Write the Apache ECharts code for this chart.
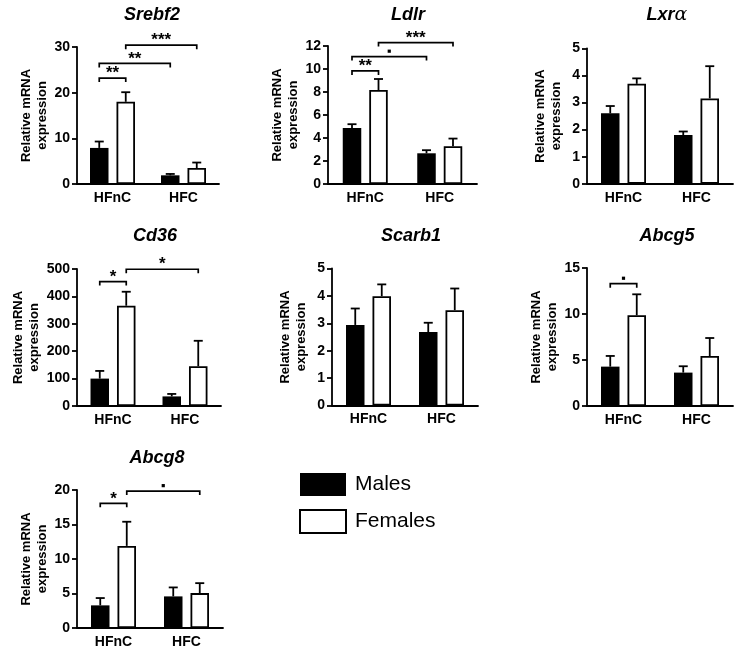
<!DOCTYPE html>
<html>
<head>
<meta charset="utf-8">
<script src="https://cdn.jsdelivr.net/npm/echarts@6/dist/echarts.min.js"></script>
<style>html,body{margin:0;padding:0;background:#fff;}#c{width:739px;height:652px;}</style>
</head>
<body>
<div id="c"></div>
<script>
// ---------- DATA ----------
const categories = ['HFnC', 'HFC'];
const seriesNames = ['Males', 'Females'];
const yAxisName = 'Relative mRNA\nexpression';

// means and SEM (upper error) per gene: [HFnC, HFC]
const srebf2Males = [7.9, 1.9],   srebf2MalesSem = [1.4, 0.3];
const srebf2Females = [18.0, 3.5], srebf2FemalesSem = [2.1, 1.2];
const ldlrMales = [4.88, 2.67],   ldlrMalesSem = [0.32, 0.27];
const ldlrFemales = [8.17, 3.28], ldlrFemalesSem = [0.96, 0.67];
const lxraMales = [2.6, 1.8],     lxraMalesSem = [0.27, 0.13];
const lxraFemales = [3.69, 3.15], lxraFemalesSem = [0.2, 1.19];
const cd36Males = [100, 35],      cd36MalesSem = [28, 9];
const cd36Females = [366, 145],   cd36FemalesSem = [51, 93];
const scarb1Males = [2.94, 2.68], scarb1MalesSem = [0.6, 0.34];
const scarb1Females = [3.99, 3.48], scarb1FemalesSem = [0.43, 0.79];
const abcg5Males = [4.28, 3.63],  abcg5MalesSem = [1.16, 0.69];
const abcg5Females = [9.86, 5.43], abcg5FemalesSem = [2.28, 1.96];
const abcg8Males = [3.28, 4.58],  abcg8MalesSem = [1.06, 1.3];
const abcg8Females = [11.9, 5.06], abcg8FemalesSem = [3.5, 1.44];

// significance brackets: [fromBar, toBar, level, label]; bar 0=HFnC M,1=HFnC F,2=HFC M,3=HFC F
const srebf2Sig = [[0, 1, 23.2, '**'], [0, 2, 26.4, '**'], [1, 3, 30.4, '***']];
const ldlrSig = [[0, 1, 9.83, '**'], [0, 2, 11.08, '.'], [1, 3, 12.3, '***']];
const lxraSig = [];
const cd36Sig = [[0, 1, 454, '*'], [1, 3, 499, '*']];
const scarb1Sig = [];
const abcg5Sig = [[0, 1, 13.3, '.']];
const abcg8Sig = [[0, 1, 18.07, '*'], [1, 3, 19.85, '.']];

// axis ranges
const yMax = [30, 12, 5, 500, 5, 15, 20];
const yInterval = [10, 2, 1, 100, 1, 5, 5];

// ---------- LAYOUT ----------
const FONT = 'Arial, "Liberation Sans", Helvetica, sans-serif';
const BAR_W = 18.5, BAR_GAP = 8, OFF = (BAR_W + BAR_GAP) / 2, CAP = 9, DROP = 4;

const genes = [
  {title: 'Srebf2', m: srebf2Males, ms: srebf2MalesSem, f: srebf2Females, fs: srebf2FemalesSem, sig: srebf2Sig},
  {title: 'Ldlr', m: ldlrMales, ms: ldlrMalesSem, f: ldlrFemales, fs: ldlrFemalesSem, sig: ldlrSig},
  {title: 'Lxrα', m: lxraMales, ms: lxraMalesSem, f: lxraFemales, fs: lxraFemalesSem, sig: lxraSig},
  {title: 'Cd36', m: cd36Males, ms: cd36MalesSem, f: cd36Females, fs: cd36FemalesSem, sig: cd36Sig},
  {title: 'Scarb1', m: scarb1Males, ms: scarb1MalesSem, f: scarb1Females, fs: scarb1FemalesSem, sig: scarb1Sig},
  {title: 'Abcg5', m: abcg5Males, ms: abcg5MalesSem, f: abcg5Females, fs: abcg5FemalesSem, sig: abcg5Sig},
  {title: 'Abcg8', m: abcg8Males, ms: abcg8MalesSem, f: abcg8Females, fs: abcg8FemalesSem, sig: abcg8Sig}
];

const layout = [
  {left: 77, top: 47, width: 142, height: 137, nameGap: 26, tx: 147, ty: 1},
  {left: 328, top: 46, width: 149, height: 138, nameGap: 19, tx: 403, ty: 1},
  {left: 587, top: 48.3, width: 146, height: 135.5, nameGap: 23, tx: 662, ty: 1},
  {left: 77, top: 269, width: 144, height: 137, nameGap: 35, tx: 150, ty: 222},
  {left: 332, top: 268.5, width: 146, height: 137, nameGap: 23, tx: 406, ty: 222},
  {left: 587, top: 268, width: 146, height: 138, nameGap: 23, tx: 662, ty: 222},
  {left: 77, top: 490, width: 146, height: 138, nameGap: 25, tx: 152, ty: 444}
];

const grid = [], xAxis = [], yAxis = [], series = [], title = [];

genes.forEach((g, i) => {
  const L = layout[i];
  grid.push({left: L.left, top: L.top, width: L.width, height: L.height, containLabel: false});
  xAxis.push({
    type: 'category', gridIndex: i, data: categories,
    axisLine: {lineStyle: {color: '#000', width: 1.8}},
    axisTick: {alignWithLabel: true, length: 5, lineStyle: {color: '#000', width: 1.8}},
    axisLabel: {color: '#000', fontFamily: FONT, fontWeight: 'bold', fontSize: 14, margin: 7},
    splitLine: {show: false}
  });
  yAxis.push({
    type: 'value', gridIndex: i, min: 0, max: yMax[i], interval: yInterval[i],
    name: yAxisName, nameLocation: 'middle', nameGap: L.nameGap,
    nameTextStyle: {color: '#000', fontFamily: FONT, fontWeight: 'bold', fontSize: 13, lineHeight: 16},
    axisLine: {show: true, lineStyle: {color: '#000', width: 1.8}},
    axisTick: {show: true, length: 5, lineStyle: {color: '#000', width: 1.8}},
    axisLabel: {color: '#000', fontFamily: FONT, fontWeight: 'bold', fontSize: 14, margin: 7},
    splitLine: {show: false}
  });
  const isLxr = g.title === 'Lxrα';
  title.push({
    text: isLxr ? '{a|Lxr}{b|α}' : g.title,
    left: L.tx, top: L.ty, textAlign: 'center',
    textStyle: {
      color: '#000', fontFamily: FONT, fontWeight: 'bold', fontStyle: 'italic', fontSize: 18,
      rich: {
        a: {color: '#000', fontFamily: FONT, fontWeight: 'bold', fontStyle: 'italic', fontSize: 18},
        b: {color: '#000', fontFamily: '"DejaVu Serif", "Liberation Serif", serif', fontWeight: 'normal', fontStyle: 'italic', fontSize: 19}
      }
    }
  });
  series.push({
    type: 'bar', name: seriesNames[0], xAxisIndex: i, yAxisIndex: i, data: g.m,
    barWidth: BAR_W, barGap: (BAR_GAP / BAR_W * 100).toFixed(1) + '%',
    itemStyle: {color: '#000'}, z: 2
  });
  series.push({
    type: 'bar', name: seriesNames[1], xAxisIndex: i, yAxisIndex: i, data: g.f,
    barWidth: BAR_W, barGap: (BAR_GAP / BAR_W * 100).toFixed(1) + '%',
    itemStyle: {color: '#fff', borderColor: '#000', borderWidth: 1.8}, z: 2
  });
  const errData = [];
  categories.forEach((c, ci) => {
    errData.push([ci, 0, g.m[ci], g.ms[ci]]);
    errData.push([ci, 1, g.f[ci], g.fs[ci]]);
  });
  series.push({
    type: 'custom', xAxisIndex: i, yAxisIndex: i, data: errData, clip: false, z: 3,
    encode: {x: 0, y: 2}, silent: true,
    renderItem: function (params, api) {
      const cat = api.value(0), sex = api.value(1), mean = api.value(2), sem = api.value(3);
      const p0 = api.coord([cat, mean]);
      const p1 = api.coord([cat, mean + sem]);
      const x = p0[0] + (sex ? OFF : -OFF);
      const st = {stroke: '#000', lineWidth: 1.8, fill: null};
      return {type: 'group', children: [
        {type: 'line', shape: {x1: x, y1: p0[1], x2: x, y2: p1[1]}, style: st},
        {type: 'line', shape: {x1: x - CAP / 2, y1: p1[1], x2: x + CAP / 2, y2: p1[1]}, style: st}
      ]};
    }
  });
  if (g.sig.length) {
    const sig = g.sig;
    series.push({
      type: 'custom', xAxisIndex: i, yAxisIndex: i, clip: false, z: 4, silent: true,
      data: sig.map(s => [Math.floor(s[0] / 2), s[2], s[1]]),
      encode: {x: 0, y: 1},
      renderItem: function (params, api) {
        const s = sig[params.dataIndex];
        const bx = b => {
          const p = api.coord([Math.floor(b / 2), s[2]]);
          return [p[0] + (b % 2 ? OFF : -OFF), p[1]];
        };
        const a = bx(s[0]), b = bx(s[1]);
        const y = a[1];
        const cx = (a[0] + b[0]) / 2;
        const children = [{
          type: 'polyline',
          shape: {points: [[a[0], y + DROP], [a[0], y], [b[0], y], [b[0], y + DROP]]},
          style: {stroke: '#000', lineWidth: 1.7, fill: null}
        }];
        if (s[3] === '.') {
          children.push({type: 'rect', shape: {x: cx - 1.6, y: y - 7, width: 3.2, height: 3.2}, style: {fill: '#000'}});
        } else {
          children.push({type: 'text', x: cx, y: y - 13,
            style: {text: s[3], fill: '#000', font: 'bold 17px ' + FONT, textAlign: 'center', textVerticalAlign: 'top'}});
        }
        return {type: 'group', children: children};
      }
    });
  }
});

const chart = echarts.init(document.getElementById('c'), null, {renderer: 'canvas'});
chart.setOption({
  animation: false,
  backgroundColor: '#fff',
  title: title,
  grid: grid, xAxis: xAxis, yAxis: yAxis, series: series,
  legend: {
    orient: 'vertical', left: 294, top: 468, itemWidth: 46, itemHeight: 23, itemGap: 13,
    icon: 'rect', selectedMode: false,
    textStyle: {color: '#000', fontFamily: FONT, fontSize: 21, padding: [0, 0, 0, 4]},
    data: [
      {name: seriesNames[0], itemStyle: {color: '#000'}},
      {name: seriesNames[1], itemStyle: {color: '#fff', borderColor: '#000', borderWidth: 2}}
    ]
  }
});
</script>
</body>
</html>
